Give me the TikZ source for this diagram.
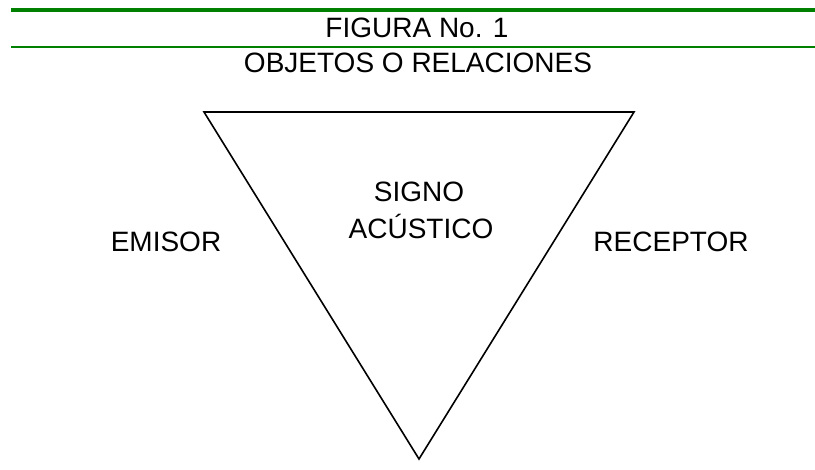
\documentclass[tikz,border=0pt]{standalone}
\usepackage{fontspec}
\setmainfont{Liberation Sans}
\begin{document}
\begin{tikzpicture}[x=1pt,y=-1pt,
  lbl/.style={font=\fontsize{28}{32}\selectfont, inner sep=0pt, anchor=base},
  rule/.style={draw={rgb,255:red,0;green,128;blue,0}},
  tri/.style={draw=black, line width=1.6pt, line join=miter}]
\useasboundingbox (0,0) rectangle (815,470);
\coordinate (r1a) at (11,10);
\coordinate (r1b) at (815,10);
\coordinate (r2a) at (11,47);
\coordinate (r2b) at (815,47);
\draw[rule, line width=4pt] (r1a) -- (r1b);
\draw[rule, line width=2.5pt] (r2a) -- (r2b);
\node[lbl] (fig) at (417,38) {FIGURA No. 1};
\node[lbl] (obj) at (418,73) {OBJETOS O RELACIONES};
\coordinate (tl) at (204,112);
\coordinate (tr) at (634,112);
\coordinate (bt) at (419,459);
\draw[tri] (tl) -- (tr) -- (bt) -- cycle;
\node[lbl] (signo) at (419,202) {SIGNO};
\node[lbl] (acustico) at (421,239) {ACÚSTICO};
\node[lbl] (emisor) at (166,252) {EMISOR};
\node[lbl] (receptor) at (671,252) {RECEPTOR};
\end{tikzpicture}
\end{document}
